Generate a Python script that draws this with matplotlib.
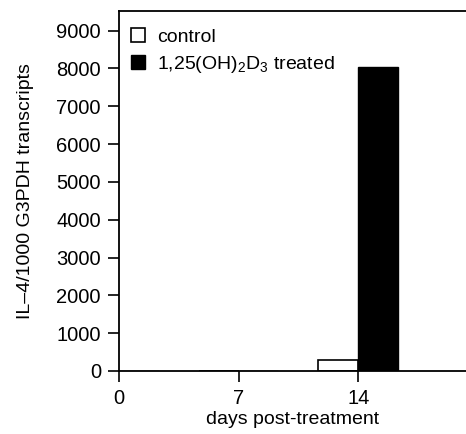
import numpy as np
import matplotlib
matplotlib.use("Agg")
import matplotlib.pyplot as plt

plt.rcParams['font.family'] = ['Liberation Sans', 'DejaVu Sans']
plt.rcParams['mathtext.fontset'] = 'custom'
plt.rcParams['mathtext.rm'] = 'Liberation Sans'
plt.rcParams['mathtext.it'] = 'Liberation Sans'

days = [0, 7, 14]
control = [0, 0, 300]
treated = [0, 0, 8030]
yticks = [0, 1000, 2000, 3000, 4000, 5000, 6000, 7000, 8000, 9000]

fs = 14

fig = plt.figure(figsize=(4.66, 4.34), dpi=100)
ax = fig.add_axes([119/466, 1 - 371/434, 1 - 119/466, 360/434])

w = 2.33
x = np.array(days)
ax.bar(x - w/2, control, width=w, color='white', edgecolor='black', linewidth=1.2, label='control')
ax.bar(x + w/2, treated, width=w, color='black', edgecolor='black', linewidth=1.0,
       label='1,25(OH)$_2$D$_3$ treated')

ax.set_xlim(0, 20.3)
ax.set_ylim(0, 9520)
ax.set_xticks(days)
ax.set_yticks(yticks)
ax.tick_params(direction='out', length=8, width=1.2, labelsize=14.5)
ax.tick_params(axis='y', pad=5)
ax.tick_params(axis='x', pad=5)
for s in ['left', 'bottom', 'top']:
    ax.spines[s].set_linewidth(1.3)
ax.spines['right'].set_visible(False)

ax.set_xlabel('days post-treatment', fontsize=fs, labelpad=2)
ax.set_ylabel('IL–4/1000 G3PDH transcripts', fontsize=fs, labelpad=16)

ax.legend(loc='upper left', bbox_to_anchor=(0, 0.985), frameon=False, fontsize=fs,
          handlelength=0.75, handleheight=0.75, handletextpad=0.6, labelspacing=0.4,
          borderaxespad=0.2, borderpad=0.4)

fig.savefig('out.png', dpi=100)
